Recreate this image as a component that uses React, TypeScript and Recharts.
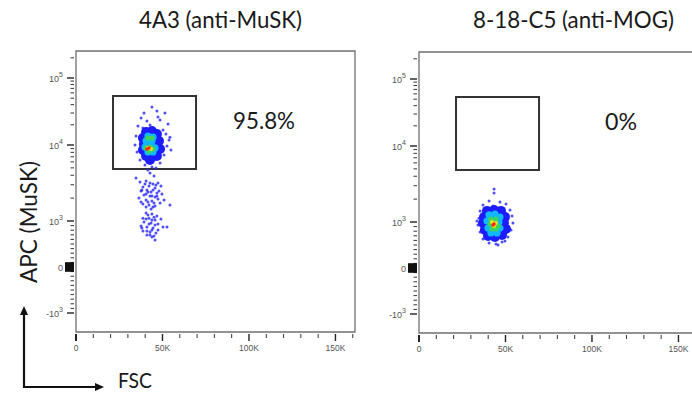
import React from 'react';
import { ScatterChart, Scatter, XAxis, YAxis, ReferenceArea } from 'recharts';

// [FSC, APC] events
const musskSparse: [number, number][] = [
  [43900, 36900], [46800, 32100], [51400, 30000], [37600, 25300], [41000, 22800], [48600, 23600],
  [53200, 20600], [35800, 19200], [38700, 17900], [50300, 16700], [52000, 14600], [34700, 13600],
  [53800, 11900], [34100, 10000], [52600, 9700], [35300, 8090], [50900, 7390], [37000, 6350],
  [48600, 5800], [39900, 5460], [43900, 5140], [41600, 4690], [46200, 4980], [42800, 4280],
  [45100, 3910], [54300, 13100], [47400, 26200], [39300, 30000], [42800, 19900], [54900, 8600],
  [37000, 3260], [40500, 3360], [44500, 3070], [47400, 3160], [38700, 2800], [42200, 2890],
  [45700, 2720], [49100, 2890], [37600, 2480], [41000, 2560], [43400, 2410], [46800, 2340],
  [39300, 2200], [42800, 2130], [45700, 2070], [49700, 2270], [36400, 2010], [40500, 1890],
  [43900, 1830], [47400, 1950], [38700, 1670], [42200, 1620], [45700, 1570], [43400, 1440],
  [54300, 1620], [34700, 3680], [50900, 1890],
  [39900, 3070], [42800, 3160], [46200, 2980], [38100, 2560], [41600, 2410], [44500, 2560],
  [48000, 2480], [40500, 2270], [43900, 2130], [46800, 2130], [37600, 1780], [41600, 1780],
  [45100, 1730], [48600, 1730], [40500, 1530], [44500, 1530],
  [40500, 1270], [43900, 1240], [46800, 1160], [38700, 1090], [42200, 1090], [45700, 1030],
  [49100, 1060], [39300, 978], [43400, 957], [47400, 935], [37600, 891], [41000, 870],
  [44500, 848], [50300, 870], [38700, 783], [42800, 761], [46200, 739], [43900, 652],
  [45700, 587], [52600, 870], [41000, 696],
  [41600, 1200], [45100, 1120], [40500, 1060], [43900, 1030], [42200, 935], [45700, 913],
  [38100, 848], [43900, 804], [41000, 783], [47400, 804], [42800, 696], [45100, 674],
];
const musskFill: [number, number][] = [
  [40500, 15600], [43900, 16200], [46800, 14600], [38700, 12700], [42200, 13100], [45700, 12700],
  [48000, 11500], [39300, 10300], [42800, 10300], [46200, 10000], [48600, 8850], [38700, 8600],
  [42200, 8340], [45700, 8340], [40500, 7160], [43900, 6950], [46800, 7160], [42800, 6350],
];
const musskCyan: [number, number][] = [
  [41600, 13600], [44500, 13100], [40500, 11500], [43900, 11500], [39900, 9410], [43400, 9700],
  [45700, 9140], [41600, 8090], [44500, 8090],
];
const musskGreen: [number, number][] = [
  [41600, 12700], [43900, 12700], [40500, 9140], [42800, 9410], [44500, 8850], [42200, 8340],
];
const musskYellow: [number, number][] = [[41600, 9140], [43400, 8850]];
const musskRed: [number, number][] = [[42200, 9140], [41000, 8850]];

const mogSparse: [number, number][] = [
  [43400, 2720], [43400, 2410], [40500, 1890], [46800, 1830], [37000, 1670], [50300, 1730],
  [35300, 1400], [52600, 1440], [34700, 1120], [53800, 1200], [34100, 935], [54300, 978],
  [35300, 783], [53200, 826], [37000, 630], [51400, 674], [40500, 543], [44500, 522],
  [48000, 565], [37600, 1310], [51400, 1240], [36400, 870], [49700, 587], [42800, 1620],
  [45700, 500], [33500, 1030],
];
const mogFill: [number, number][] = [
  [39300, 1400], [43400, 1440], [47400, 1400], [37600, 1160], [41600, 1200], [45700, 1200],
  [49700, 1160], [37000, 978], [41000, 978], [45100, 978], [49100, 978], [38100, 826],
  [42200, 826], [46200, 826], [50300, 848], [39900, 696], [43900, 674], [48000, 717],
];
const mogCyan: [number, number][] = [
  [40500, 1240], [43900, 1270], [46800, 1160], [39300, 1030], [42800, 1060], [46200, 1000],
  [39900, 870], [43400, 891], [46800, 870], [41600, 761], [45100, 761],
];
const mogGreen: [number, number][] = [
  [41600, 1090], [44500, 1090], [41000, 957], [43900, 957], [45700, 913], [42200, 848], [44500, 848],
];
const mogYellow: [number, number][] = [[42200, 1000], [44500, 978], [43400, 913]];
const mogRed: [number, number][] = [[43400, 957], [42800, 935]];

// gate (same on both plots)
const gateFsc = [21400, 69400];
const gateApc = [4830, 54000];

const titles = ['4A3 (anti-MuSK)', '8-18-C5 (anti-MOG)'];
const percents = ['95.8%', '0%'];

const xMajorTicks = [0, 50000, 100000, 150000];
const xMajorLabels = ['0', '50K', '100K', '150K'];
const xMinorTicks = [10000, 20000, 30000, 40000, 60000, 70000, 80000, 90000, 110000, 120000, 130000, 140000, 160000];

const yMajorTicks = [-1000, 0, 1000, 10000, 100000];
const yMajorLabels = [['-10', '3'], ['0', ''], ['10', '3'], ['10', '4'], ['10', '5']];
const yMinorTicks = [
  -900, -800, -700, -600, -500, -400, -300, -200, -100,
  100, 200, 300, 400, 500, 600, 700, 800, 900,
  2000, 3000, 4000, 5000, 6000, 7000, 8000, 9000,
  20000, 30000, 40000, 50000, 60000, 70000, 80000, 90000, 200000,
];
const yZeroTicks = [-90, -80, -70, -60, -50, -40, -30, -20, -10, 10, 20, 30, 40, 50, 60, 70, 80, 90];

// biexponential-like display scale: linear around zero, log above 10^3
const apcToAxis = (v: number) => {
  if (v <= 1000) return v * 0.046;
  if (v <= 10000) return 46 + 76 * Math.log10(v / 1000);
  return 122 + 67 * Math.log10(v / 10000);
};

const X_MAX = 161300;
const Y_DOMAIN: [number, number] = [-65, 216];

const toPts = (arr: [number, number][]) => arr.map(([f, a]) => ({ x: f, y: apcToAxis(a) }));

const allYTicks = [...yMajorTicks, ...yMinorTicks, ...yZeroTicks];

const tickFont = 'Liberation Sans, Arial, sans-serif';

const XTick = (props: any) => {
  const { x, y, payload } = props;
  const i = xMajorTicks.indexOf(payload.value);
  if (i < 0) {
    return <line x1={x} x2={x} y1={y} y2={y + 4} stroke="#333" strokeWidth={1} />;
  }
  return (
    <g>
      <line x1={x} x2={x} y1={y} y2={y + 7} stroke="#222" strokeWidth={i === 0 ? 2 : 1.4} />
      <text x={x} y={y + 17} textAnchor="middle" fontSize={8.5} fill="#555" fontFamily={tickFont}>
        {xMajorLabels[i]}
      </text>
    </g>
  );
};

const YTick = (props: any) => {
  const { x, y, payload } = props;
  const v = payload.value;
  const mi = yMajorTicks.findIndex((t) => Math.abs(apcToAxis(t) - v) < 1e-6);
  if (mi >= 0) {
    const [base, sup] = yMajorLabels[mi];
    return (
      <g>
        <line x1={x - 7} x2={x} y1={y} y2={y} stroke="#222" strokeWidth={1.4} />
        <text x={x - 11} y={y + 3.5} textAnchor="end" fontSize={9} fill="#555" fontFamily={tickFont}>
          {base}
          {sup && (
            <tspan dy={-4.5} fontSize={7}>
              {sup}
            </tspan>
          )}
        </text>
      </g>
    );
  }
  const isZero = yZeroTicks.some((t) => Math.abs(apcToAxis(t) - v) < 1e-6);
  if (isZero) {
    return <line x1={x - 9} x2={x} y1={y} y2={y} stroke="#111" strokeWidth={1.2} />;
  }
  return <line x1={x - 3.5} x2={x} y1={y} y2={y} stroke="#333" strokeWidth={1} />;
};

const dot = (r: number, fill: string, opacity = 1) => (p: any) => (
  <circle cx={p.cx} cy={p.cy} r={r} fill={fill} fillOpacity={opacity} />
);

type PanelProps = {
  left: number;
  top: number;
  layers: [number, number][][];
};

const layerStyle = [
  { r: 1.5, fill: '#2424ff', op: 0.8 },
  { r: 5, fill: '#1c1cff', op: 1 },
  { r: 3.6, fill: '#10b8ff', op: 1 },
  { r: 2.6, fill: '#3fd45a', op: 1 },
  { r: 2, fill: '#f2e21a', op: 1 },
  { r: 1.7, fill: '#ff2a10', op: 1 },
];

const FlowPanel = ({ left, top, layers }: PanelProps) => (
  <div style={{ position: 'absolute', left, top: 0 }}>
    <ScatterChart width={360} height={393} margin={{ top, right: 5, bottom: 0, left: 0 }}>
      <XAxis
        type="number"
        dataKey="x"
        domain={[0, X_MAX]}
        allowDataOverflow
        ticks={[...xMajorTicks, ...xMinorTicks]}
        interval={0}
        tick={<XTick />}
        tickLine={false}
        axisLine={false}
        tickSize={0}
        height={393 - top - 281}
      />
      <YAxis
        type="number"
        dataKey="y"
        domain={Y_DOMAIN}
        allowDataOverflow
        ticks={allYTicks.map(apcToAxis)}
        interval={0}
        tick={<YTick />}
        tickLine={false}
        axisLine={false}
        tickSize={0}
        width={76}
      />
      <ReferenceArea x1={0} x2={X_MAX} y1={Y_DOMAIN[0]} y2={Y_DOMAIN[1]} fill="none" stroke="#707070" strokeWidth={1.3} />
      {layers.map((l, i) => (
        <Scatter
          key={i}
          data={toPts(l)}
          isAnimationActive={false}
          shape={dot(layerStyle[i].r, layerStyle[i].fill, layerStyle[i].op)}
        />
      ))}
      <ReferenceArea
        x1={gateFsc[0]}
        x2={gateFsc[1]}
        y1={apcToAxis(gateApc[0])}
        y2={apcToAxis(gateApc[1])}
        fill="none"
        stroke="#333"
        strokeWidth={2}
      />
    </ScatterChart>
  </div>
);

export default function App() {
  const font = 'Lato, "Open Sans", sans-serif';
  return (
    <div style={{ position: 'absolute', left: 0, top: 0, width: 692, height: 393, overflow: 'hidden', background: '#fff' }}>
      <FlowPanel left={0} top={51} layers={[musskSparse, musskFill, musskCyan, musskGreen, musskYellow, musskRed]} />
      <FlowPanel left={343} top={52} layers={[mogSparse, mogFill, mogCyan, mogGreen, mogYellow, mogRed]} />
      <svg width={692} height={393} style={{ position: 'absolute', left: 0, top: 0, pointerEvents: 'none' }}>
        <g fontFamily={font} fill="#1a1a1a">
          <text x={220.5} y={28} fontSize={23} textAnchor="middle" textLength={163} lengthAdjust="spacingAndGlyphs">
            {titles[0]}
          </text>
          <text x={573.5} y={28} fontSize={23} textAnchor="middle" textLength={201} lengthAdjust="spacingAndGlyphs">
            {titles[1]}
          </text>
          <text x={233} y={129} fontSize={24} textLength={62} lengthAdjust="spacingAndGlyphs">
            {percents[0]}
          </text>
          <text x={605} y={130} fontSize={24} textLength={32} lengthAdjust="spacingAndGlyphs">
            {percents[1]}
          </text>
          <text
            x={0}
            y={0}
            fontSize={23}
            textAnchor="middle"
            transform="translate(37,222) rotate(-90)"
            textLength={122}
            lengthAdjust="spacingAndGlyphs"
          >
            APC (MuSK)
          </text>
          <text x={118} y={388} fontSize={22} textLength={34} lengthAdjust="spacingAndGlyphs">
            FSC
          </text>
        </g>
        <g stroke="#111" strokeWidth={2.2} fill="none">
          <polyline points="24,314 24,387 96,387" />
        </g>
        <polygon points="24,306 20,315 28,315" fill="#111" />
        <polygon points="104,387 95,383 95,391" fill="#111" />
      </svg>
    </div>
  );
}
